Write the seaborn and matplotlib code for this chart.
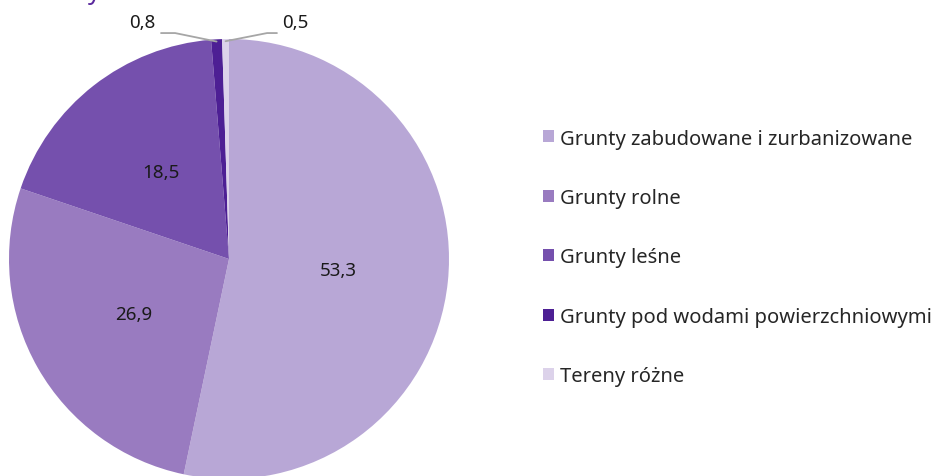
import numpy as np
import matplotlib
matplotlib.use("Agg")
import matplotlib.pyplot as plt
import seaborn as sns
from matplotlib.patches import Patch

# dane
kategorie = ['Grunty zabudowane i zurbanizowane', 'Grunty rolne', 'Grunty leśne',
             'Grunty pod wodami powierzchniowymi', 'Tereny różne']
wartosci = [53.3, 26.9, 18.5, 0.8, 0.5]
kolory = ['#b8a7d6', '#997bc0', '#7550ad', '#4d1f94', '#dcd2ea']

sns.set_theme(style='white')
plt.rcParams['font.family'] = ['Noto Sans', 'DejaVu Sans']

W, H = 937, 477
fig = plt.figure(figsize=(W / 100, H / 100), dpi=100)
R = 220
cx, cy = 229, 260
ax = fig.add_axes([(cx - R) / W, (H - cy - R) / H, 2 * R / W, 2 * R / H])

wedges, _ = ax.pie(wartosci, colors=kolory, startangle=90, counterclock=False,
                   radius=1, wedgeprops=dict(linewidth=0))
ax.set_xlim(-1, 1)
ax.set_ylim(-1, 1)
ax.set_aspect('equal')
ax.axis('off')

fmt = lambda v: f'{v:.1f}'.replace('.', ',')

# etykiety w środku dużych wycinków
for w, v in zip(wedges, wartosci):
    kat = np.deg2rad((w.theta1 + w.theta2) / 2)
    if v > 5:
        ax.text(0.5 * np.cos(kat), 0.5 * np.sin(kat), fmt(v), ha='center', va='center',
                fontsize=13.5, color='#1a1a1a')

# małe wycinki z liniami odniesienia
ustawienia = {3: (-0.395, -0.309, -0.245), 4: (0.30, 0.218, 0.173)}
for i, (lx, x_end, x_knee) in ustawienia.items():
    w = wedges[i]
    kat = np.deg2rad((w.theta1 + w.theta2) / 2)
    ex, ey = np.cos(kat), np.sin(kat)
    ax.plot([x_end, x_knee, ex], [1.027, 1.027, ey * 0.99], color='#a6a6a6', lw=1.3,
            clip_on=False)
    ax.text(lx, 1.075, fmt(wartosci[i]), ha='center', va='center', fontsize=13.5,
            color='#1a1a1a')

# legenda
uchwyty = [Patch(facecolor=k, edgecolor='none') for k in kolory]
fig.legend(uchwyty, kategorie, loc='center left', bbox_to_anchor=(543 / W, (H - 258.5) / H),
           frameon=False, fontsize=14.5, handlelength=0.55, handleheight=0.55,
           handletextpad=0.3, labelspacing=1.96, borderpad=0, borderaxespad=0)

# urwany tytuł u góry
fig.text(88 / W, 1 + 1 / H, 'y', color='#5b2a9e', fontsize=18, fontweight='bold',
         va='baseline', ha='left')

fig.savefig('out.png', dpi=100, facecolor='white')
